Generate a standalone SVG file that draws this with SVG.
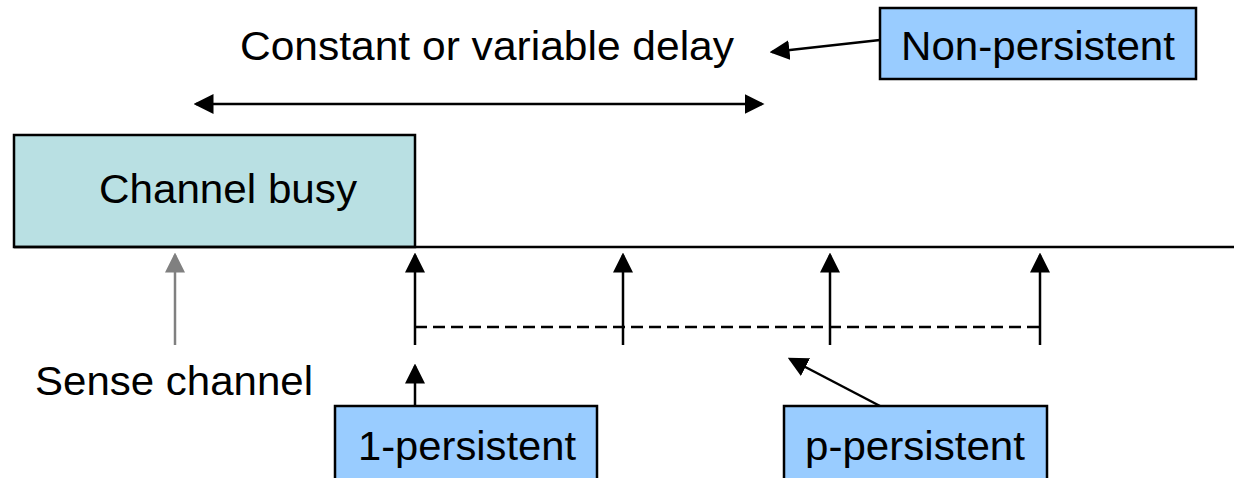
<svg xmlns="http://www.w3.org/2000/svg" width="1234" height="478" viewBox="0 0 1234 478">
  <style>
    .lbl { font-family: "Liberation Sans", Arial, sans-serif; font-size: 41px; fill: #000; }
    .busy { fill: #b9e0e3; stroke: #000; stroke-width: 2.5; }
    .tag { fill: #99ccff; stroke: #000; stroke-width: 2.5; }
    .wire { stroke: #000; stroke-width: 2.5; fill: none; }
    .grey { stroke: #808080; stroke-width: 2.5; fill: none; }
    .dash { stroke: #000; stroke-width: 2.5; stroke-dasharray: 12 6; fill: none; }
  </style>
  <defs>
    <marker id="ah" markerWidth="8" markerHeight="8" refX="7" refY="4" orient="auto" markerUnits="strokeWidth">
      <path d="M0,0 L8,4 L0,8 Z" fill="#000"/>
    </marker>
    <marker id="ahs" markerWidth="8" markerHeight="8" refX="7" refY="4" orient="auto-start-reverse" markerUnits="strokeWidth">
      <path d="M0,0 L8,4 L0,8 Z" fill="#000"/>
    </marker>
    <marker id="ahg" markerWidth="8" markerHeight="8" refX="7" refY="4" orient="auto" markerUnits="strokeWidth">
      <path d="M0,0 L8,4 L0,8 Z" fill="#808080"/>
    </marker>
  </defs>

  <!-- busy period on the time axis -->
  <g id="channel-busy">
    <rect class="busy" x="14" y="135" width="401" height="112"/>
    <text class="lbl" x="99" y="203" textLength="258" lengthAdjust="spacingAndGlyphs">Channel busy</text>
  </g>

  <g id="delay-label">
    <text class="lbl" x="240" y="60" textLength="494" lengthAdjust="spacingAndGlyphs">Constant or variable delay</text>
  </g>

  <g id="non-persistent">
    <rect class="tag" x="880" y="8" width="316" height="71"/>
    <text class="lbl" x="901" y="60" textLength="274" lengthAdjust="spacingAndGlyphs">Non-persistent</text>
  </g>

  <g id="sense-channel">
    <text class="lbl" x="35" y="395" textLength="278" lengthAdjust="spacingAndGlyphs">Sense channel</text>
  </g>

  <g id="one-persistent">
    <rect class="tag" x="335" y="406" width="262" height="80"/>
    <text class="lbl" x="358" y="460" textLength="218" lengthAdjust="spacingAndGlyphs">1-persistent</text>
  </g>

  <g id="p-persistent">
    <rect class="tag" x="784" y="406" width="263" height="80"/>
    <text class="lbl" x="805" y="460" textLength="220" lengthAdjust="spacingAndGlyphs">p-persistent</text>
  </g>

  <g id="connectors">
    <!-- time axis -->
    <line class="wire" x1="14" y1="247" x2="1234" y2="247"/>
    <!-- delay span -->
    <line class="wire" x1="196" y1="104" x2="762" y2="104" marker-start="url(#ahs)" marker-end="url(#ah)"/>
    <!-- Non-persistent pointer -->
    <line class="wire" x1="880" y1="40" x2="772" y2="52" marker-end="url(#ah)"/>
    <!-- sensing instants -->
    <line class="grey" x1="175" y1="345" x2="175" y2="255" marker-end="url(#ahg)"/>
    <line class="wire" x1="415" y1="345" x2="415" y2="255" marker-end="url(#ah)"/>
    <line class="wire" x1="623" y1="345" x2="623" y2="255" marker-end="url(#ah)"/>
    <line class="wire" x1="830" y1="345" x2="830" y2="255" marker-end="url(#ah)"/>
    <line class="wire" x1="1040" y1="345" x2="1040" y2="255" marker-end="url(#ah)"/>
    <!-- slot spacing -->
    <line class="dash" x1="415" y1="327" x2="1040" y2="327"/>
    <!-- 1-persistent pointer -->
    <line class="wire" x1="415" y1="406" x2="415" y2="366" marker-end="url(#ah)"/>
    <!-- p-persistent pointer -->
    <line class="wire" x1="880" y1="406" x2="790" y2="359" marker-end="url(#ah)"/>
  </g>
</svg>
